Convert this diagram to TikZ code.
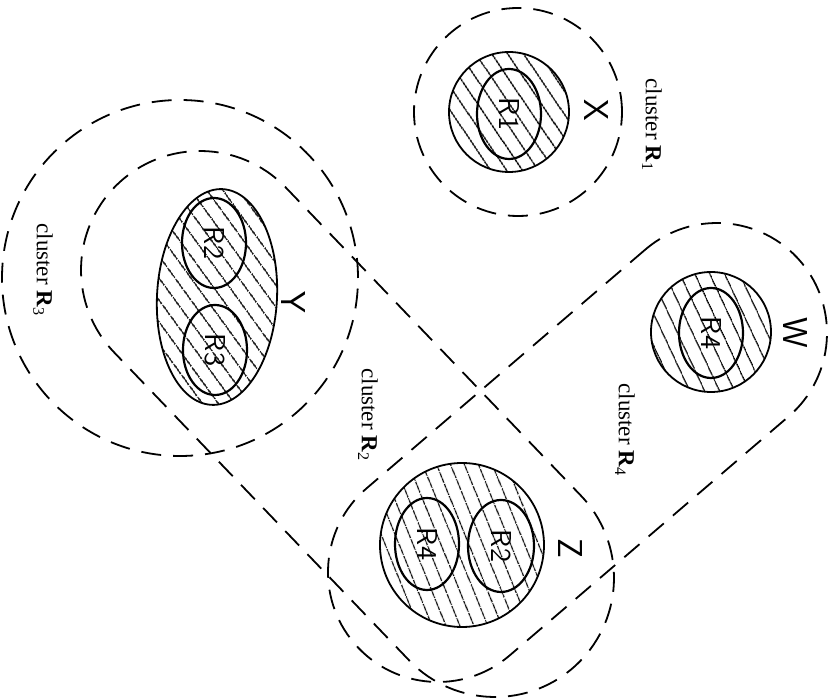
\documentclass[tikz,border=0pt]{standalone}
\usepackage{fontspec}
\setmainfont{Liberation Serif}
\usetikzlibrary{shapes.geometric,calc,patterns.meta}

\begin{document}
\begin{tikzpicture}[
    x=0.5pt, y=-0.5pt,
    lbl/.style={font=\fontsize{11.5}{13}\selectfont, rotate=-90, inner sep=1pt},
    obj/.style={font=\sffamily\LARGE, rotate=-90, inner sep=1pt},
    reg/.style={ellipse, draw, line width=1.1pt, rotate=-90, inner sep=0pt,
      font=\sffamily\Large, minimum width=45pt, minimum height=32pt},
    hatch/.style={draw, line width=0.9pt, inner sep=0pt,
      pattern={Lines[angle=#1, distance=6.5pt, line width=0.7pt]}},
    clus/.style={draw, line width=0.9pt, dash pattern=on 10pt off 6pt}
  ]
  \useasboundingbox (0,0) rectangle (837,699);

  \node[hatch=-56, circle, minimum size=60pt] (x) at (509,112) {};
  \node[hatch=-54, ellipse, rotate=-3, minimum width=60pt, minimum height=108pt] (y) at (217,297) {};
  \node[hatch=-68, circle, minimum size=82pt] (z) at (462,545) {};
  \node[hatch=-65, circle, minimum size=60pt] (w) at (711,332) {};

  \node[reg] (xr1) at (509,114) {R1};
  \node[reg] (yr2) at (214,243) {R2};
  \node[reg] (yr3) at (215,350) {R3};
  \node[reg, minimum width=46pt] (zr4) at (427,544) {R4};
  \node[reg, minimum width=46pt, minimum height=33pt] (zr2) at (501,546) {R2};
  \node[reg] (wr4) at (711,333) {R4};

  \node[obj] (xl) at (596,110) {X};
  \node[obj] (yl) at (293,302) {Y};
  \node[obj] (zl) at (570,548) {Z};
  \node[obj] (wl) at (795,333) {W};

  \node[clus, circle, minimum size=104pt] (c1) at (518,112) {};
  \node[clus, circle, minimum size=178pt] (c3) at (180,278) {};

  \coordinate (c2y) at (200,270);
  \coordinate (c2z) at (495,578);
  \draw[clus] ($(c2y)+(-44.1:119)$) -- ($(c2z)+(-44.1:119)$)
    arc[start angle=-44.1, end angle=135.9, radius=119]
    -- ($(c2y)+(135.9:119)$) arc[start angle=135.9, end angle=315.9, radius=119] -- cycle;

  \coordinate (c4w) at (717,333);
  \coordinate (c4z) at (438,572);
  \draw[clus] ($(c4w)+(229.4:110)$) -- ($(c4z)+(229.4:110)$)
    arc[start angle=229.4, end angle=49.4, radius=110]
    -- ($(c4w)+(49.4:110)$) arc[start angle=49.4, end angle=-130.6, radius=110] -- cycle;

  \node[lbl] (l1) at (652,125) {cluster \textbf{R}\textsubscript{1}};
  \node[lbl] (l2) at (368,415) {cluster \textbf{R}\textsubscript{2}};
  \node[lbl] (l3) at (43,270) {cluster \textbf{R}\textsubscript{3}};
  \node[lbl] (l4) at (625,430) {cluster \textbf{R}\textsubscript{4}};
\end{tikzpicture}
\end{document}
